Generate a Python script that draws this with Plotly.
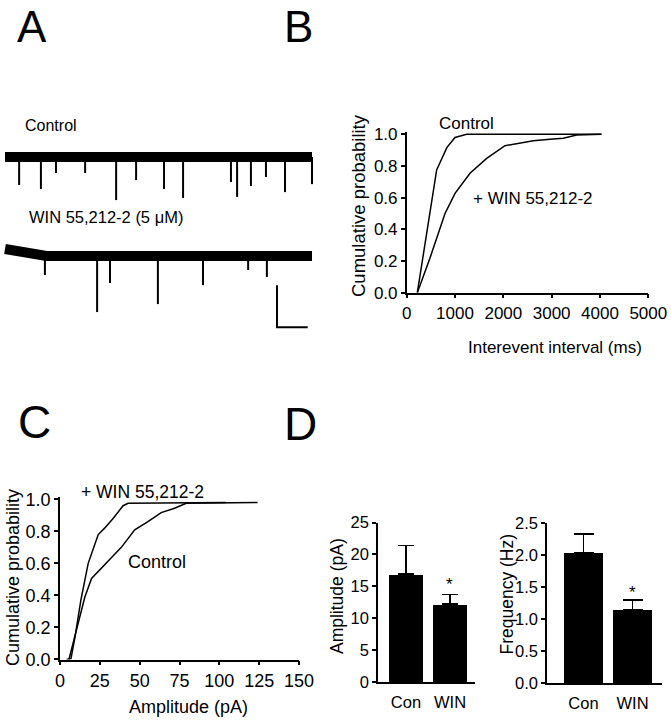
import plotly.graph_objects as go

W, H = 671, 720
FONT = "Liberation Sans, Arial, Helvetica, sans-serif"
LETTER_FONT = "Liberation Sans Narrow, Arial Narrow, Liberation Sans, Arial, sans-serif"

# ---------------- Panel A: example traces (time in s, current in pA) -------------
ctrl_base_t = [0.0, 10.0]
ctrl_base_i = [0.0, 0.0]
ctrl_evt_t = [0.46, 1.17, 1.66, 2.61, 3.62, 4.27, 5.18, 5.80, 7.36, 7.56, 8.01, 8.50, 9.12, 10.0]
ctrl_evt_amp = [-13.3, -15.2, -7.6, -7.6, -20.5, -11.0, -15.2, -19.5, -11.9, -19.0, -13.8, -9.5, -16.7, -12.9]

win_base_t = [0.0, 0.5, 1.0, 1.35, 10.0]
win_base_i = [3.3, 2.5, 1.3, 0.0, 0.0]
win_evt_t = [1.30, 3.00, 3.42, 4.98, 6.45, 7.92, 8.53]
win_evt_amp = [-9.1, -26.7, -12.9, -22.9, -13.9, -6.7, -10.0]
win_offset = -47.1          # vertical display offset of the second trace

scale_t0 = 8.86             # scale bar origin (s)
scale_i0 = -81.0            # scale bar origin (pA, display)
scale_dt = 1.0              # 1 s
scale_di = 20.0             # 20 pA

# ---------------- Panel B: interevent interval cumulative probability ------------
b_ctrl_ms = [220, 620, 830, 1000, 1240, 4030]
b_ctrl_p = [0.0, 0.775, 0.916, 0.98, 1.0, 1.0]
b_win_ms = [220, 480, 793, 1000, 1310, 1655, 2034, 2276, 2620, 2966, 3241, 3517, 4030]
b_win_p = [0.0, 0.217, 0.50, 0.627, 0.754, 0.848, 0.928, 0.943, 0.96, 0.968, 0.975, 0.996, 1.0]

# ---------------- Panel C: amplitude cumulative probability ----------------------
c_win_pa = [4.2, 6.9, 9.4, 13.1, 17.7, 24.0, 28.0, 33.3, 39.6, 42.7, 104.0]
c_win_p = [0.0, 0.006, 0.14, 0.37, 0.60, 0.78, 0.82, 0.88, 0.96, 0.975, 0.98]
c_ctrl_pa = [5.6, 10.4, 15.6, 19.8, 26.0, 31.3, 38.5, 46.9, 55.2, 63.5, 71.9, 79.2, 124.0]
c_ctrl_p = [0.0, 0.18, 0.39, 0.506, 0.57, 0.62, 0.70, 0.81, 0.86, 0.917, 0.944, 0.975, 0.98]

# ---------------- Panel D: bar charts -------------------------------------------
d_groups = ["Con", "WIN"]
d_amp_mean = [16.9, 12.2]
d_amp_sem = [4.5, 1.55]
d_freq_mean = [2.03, 1.14]
d_freq_sem = [0.30, 0.16]


def xd(p0, p1):
    return [p0 / W, p1 / W]


def yd(top, bottom):
    return [1 - bottom / H, 1 - top / H]


def px(x):
    return x / W


def py(y):
    return 1 - y / H


fig = go.Figure()

# ---- Panel A traces
fig.add_trace(go.Scatter(x=ctrl_base_t, y=ctrl_base_i, mode="lines",
                         line=dict(color="black", width=10), xaxis="x", yaxis="y",
                         showlegend=False, hoverinfo="skip"))
ex, ey = [], []
for t, a in zip(ctrl_evt_t, ctrl_evt_amp):
    ex += [t, t, None]
    ey += [0.0, a, None]
fig.add_trace(go.Scatter(x=ex, y=ey, mode="lines", line=dict(color="black", width=2),
                         xaxis="x", yaxis="y", showlegend=False, hoverinfo="skip"))

fig.add_trace(go.Scatter(x=win_base_t, y=[v + win_offset for v in win_base_i], mode="lines",
                         line=dict(color="black", width=10), xaxis="x", yaxis="y",
                         showlegend=False, hoverinfo="skip"))
ex, ey = [], []
for t, a in zip(win_evt_t, win_evt_amp):
    ex += [t, t, None]
    ey += [win_offset, win_offset + a, None]
fig.add_trace(go.Scatter(x=ex, y=ey, mode="lines", line=dict(color="black", width=2),
                         xaxis="x", yaxis="y", showlegend=False, hoverinfo="skip"))

fig.add_trace(go.Scatter(x=[scale_t0, scale_t0, scale_t0 + scale_dt],
                         y=[scale_i0 + scale_di, scale_i0, scale_i0], mode="lines",
                         line=dict(color="black", width=2), xaxis="x", yaxis="y",
                         showlegend=False, hoverinfo="skip"))

# ---- Panel B
for xs, ys in [(b_ctrl_ms, b_ctrl_p), (b_win_ms, b_win_p)]:
    fig.add_trace(go.Scatter(x=xs, y=ys, mode="lines", line=dict(color="black", width=1.5),
                             xaxis="x2", yaxis="y2", showlegend=False))

# ---- Panel C
for xs, ys in [(c_win_pa, c_win_p), (c_ctrl_pa, c_ctrl_p)]:
    fig.add_trace(go.Scatter(x=xs, y=ys, mode="lines", line=dict(color="black", width=1.5),
                             xaxis="x3", yaxis="y3", showlegend=False))

# ---- Panel D
fig.add_trace(go.Bar(x=d_groups, y=d_amp_mean, width=0.77, marker=dict(color="black", line=dict(width=0)),
                     error_y=dict(type="data", array=d_amp_sem, arrayminus=[0, 0], symmetric=False,
                                  color="black", thickness=1.5, width=8),
                     xaxis="x4", yaxis="y4", showlegend=False))
fig.add_trace(go.Bar(x=d_groups, y=d_freq_mean, width=0.8, marker=dict(color="black", line=dict(width=0)),
                     error_y=dict(type="data", array=d_freq_sem, arrayminus=[0, 0], symmetric=False,
                                  color="black", thickness=1.5, width=10),
                     xaxis="x5", yaxis="y5", showlegend=False))

axis_common = dict(showline=True, linecolor="black", linewidth=1.5, ticks="outside",
                   ticklen=4, tickwidth=1.5, tickcolor="black", showgrid=False, zeroline=False,
                   color="black", automargin=False)

layout = dict(
    width=W, height=H, margin=dict(l=0, r=0, t=0, b=0, pad=0, autoexpand=False),
    autosize=False,
    paper_bgcolor="white", plot_bgcolor="white",
    font=dict(family=FONT, color="black"),
    bargap=0,
    xaxis=dict(domain=xd(0, 330), range=[-0.163, 10.586], visible=False, anchor="y"),
    yaxis=dict(domain=yd(100, 340), range=[-87.1, 27.14], visible=False, anchor="x"),
    xaxis2=dict(domain=xd(406.7, 648.3), range=[0, 5000], tickvals=[0, 1000, 2000, 3000, 4000, 5000],
                tickfont=dict(size=17), anchor="y2", **axis_common),
    yaxis2=dict(domain=yd(292.7 - 1.012 * 158.4, 292.7), range=[0, 1.012],
                tickvals=[0, 0.2, 0.4, 0.6, 0.8, 1.0], tickformat=".1f",
                tickfont=dict(size=17), anchor="x2", **axis_common),
    xaxis3=dict(domain=xd(60, 299), range=[0, 150], tickvals=[0, 25, 50, 75, 100, 125, 150],
                tickfont=dict(size=18), anchor="y3", **axis_common),
    yaxis3=dict(domain=yd(659.5 - 1.012 * 160.2, 659.5), range=[0, 1.012],
                tickvals=[0, 0.2, 0.4, 0.6, 0.8, 1.0], tickformat=".1f",
                tickfont=dict(size=18), anchor="x3", **axis_common),
    xaxis4=dict(domain=xd(378, 475), range=[-0.636, 1.568], type="category",
                tickfont=dict(size=16.5), anchor="y4", ticklabelstandoff=4,
                **{**axis_common, "ticks": ""}),
    yaxis4=dict(domain=yd(522.5, 682), range=[0, 25], tickvals=[0, 5, 10, 15, 20, 25],
                tickfont=dict(size=16.5), anchor="x4", **axis_common),
    xaxis5=dict(domain=xd(547, 662), range=[-0.745, 1.602], type="category",
                tickfont=dict(size=16.5), anchor="y5", ticklabelstandoff=4,
                **{**axis_common, "ticks": ""}),
    yaxis5=dict(domain=yd(523, 683), range=[0, 2.5], tickvals=[0, 0.5, 1.0, 1.5, 2.0, 2.5],
                tickformat=".1f", tickfont=dict(size=16.5), anchor="x5", **axis_common),
)


def ann(text, x, y, size, angle=0, xanchor="center", yanchor="middle", family=FONT, pad=1):
    return dict(text=text, x=px(x), y=py(y), xref="paper", yref="paper", showarrow=False,
                font=dict(size=size, family=family, color="black"), textangle=angle,
                xanchor=xanchor, yanchor=yanchor, borderpad=pad)


annotations = [
    ann("A", 32, 0.5, 44, yanchor="top", family=LETTER_FONT, pad=0),
    ann("B", 298, 0.5, 44, yanchor="top", family=LETTER_FONT, pad=0),
    ann("C", 34, 422, 46, family=LETTER_FONT), ann("D", 300, 424, 46, family=LETTER_FONT),
    ann("Control", 23, 125, 16, xanchor="left"),
    ann("WIN 55,212-2 (5 \u03bcM)", 27, 217, 16.5, xanchor="left"),
    ann("Control", 467, 123, 17),
    ann("+ WIN 55,212-2", 533, 198, 17),
    ann("Cumulative probability", 358, 206, 18.5, angle=-90),
    ann("Interevent interval (ms)", 555, 347, 17),
    ann("+ WIN 55,212-2", 142, 492, 17.5),
    ann("Control", 157, 562, 18),
    ann("Cumulative probability", 13, 578, 18, angle=-90),
    ann("Amplitude (pA)", 188, 707, 18),
    ann("Amplitude (pA)", 336.5, 596.5, 17.5, angle=-90),
    ann("Frequency (Hz)", 506, 593.5, 17.5, angle=-90),
    dict(text="*", x=1, y=d_amp_mean[1] + d_amp_sem[1], xref="x4", yref="y4", showarrow=False,
         font=dict(size=17, family=FONT, color="black"), yanchor="bottom", yshift=-2),
    dict(text="*", x=1, y=d_freq_mean[1] + d_freq_sem[1], xref="x5", yref="y5", showarrow=False,
         font=dict(size=17, family=FONT, color="black"), yanchor="bottom", yshift=-4),
]
layout["annotations"] = annotations

fig.update_layout(**layout)
fig.write_html("out.html", config={"displayModeBar": False},
               post_script="document.body.style.margin='0px';document.body.style.padding='0px';")
